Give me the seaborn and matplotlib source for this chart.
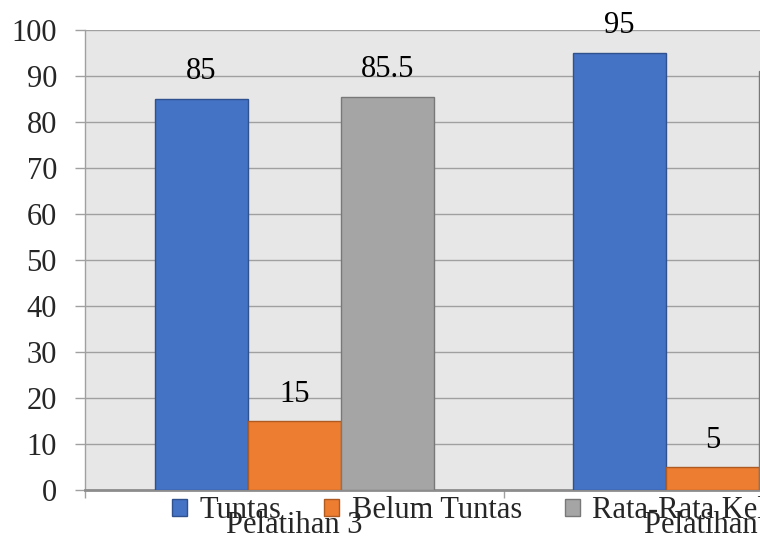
import matplotlib
matplotlib.use("Agg")
import matplotlib.pyplot as plt
import pandas as pd
import seaborn as sns

# chart data
categories = ["Pelatihan 3", "Pelatihan 4"]
series = ["Tuntas", "Belum Tuntas", "Rata-Rata Kelas"]
tuntas = [85, 95]
belum_tuntas = [15, 5]
rata_rata = [85.5, 91]
y_ticks = list(range(0, 101, 10))

colors = ["#4472C4", "#ED7D31", "#A5A5A5"]
edges = ["#2F528F", "#AE5A21", "#787878"]

df = pd.DataFrame({
    "kategori": categories * 3,
    "seri": [s for s in series for _ in categories],
    "nilai": tuntas + belum_tuntas + rata_rata,
})

sns.set_style("white")
plt.rcParams["font.family"] = ["Liberation Serif", "DejaVu Serif"]

fig = plt.figure(figsize=(7.6, 5.4), dpi=100)
# plot area runs past the right edge of the figure, like the cropped original
ax = fig.add_axes([85 / 760, 50 / 540, 837 / 760, 460 / 540])
ax.set_facecolor("#E7E7E7")

sns.barplot(
    data=df, x="kategori", y="nilai", hue="seri", order=categories,
    hue_order=series, palette=colors, width=0.667, gap=0,
    linewidth=1, saturation=1, ax=ax, legend=False,
)

for cont, ec in zip(ax.containers, edges):
    for bar in cont:
        bar.set_edgecolor(ec)
        bar.set_zorder(3)
    ax.bar_label(cont, padding=9, fontsize=22, color="black")

ax.set_xlim(-0.5, 1.5)
ax.set_ylim(0, 100)
ax.set_yticks(y_ticks)
ax.set_xticks([-0.5, 0, 0.5, 1], labels=["", categories[0], "", categories[1]])
ax.set_xlabel("")
ax.set_ylabel("")
ax.tick_params(axis="y", labelsize=22, length=7.2, pad=13, color="#A0A0A0", width=1, left=True)
ax.tick_params(axis="x", labelsize=22, length=6, pad=9, color="#A0A0A0", width=1, bottom=True)
# only the boundary ticks get marks, category centre ticks do not
for t in ax.xaxis.get_major_ticks():
    if t.get_loc() in (0, 1):
        t.tick1line.set_visible(False)

ax.grid(axis="y", color="#A0A0A0", linewidth=1)
ax.set_axisbelow(True)
for side in ["top", "right"]:
    ax.spines[side].set_visible(False)
ax.spines["left"].set_color("#A0A0A0")
ax.spines["left"].set_linewidth(1)
ax.spines["bottom"].set_color("#8C8C8C")
ax.spines["bottom"].set_linewidth(2)

handles = [plt.Rectangle((0, 0), 1, 1, facecolor=c, edgecolor=e, linewidth=1)
           for c, e in zip(colors, edges)]
fig.legend(
    handles, series, loc="center left", bbox_to_anchor=(172 / 760, 1 - 511 / 540),
    ncol=3, frameon=False, fontsize=22, handlelength=0.5, handleheight=0.5,
    handletextpad=0.4, columnspacing=1.4, borderpad=0, borderaxespad=0,
)

fig.savefig("out.png", dpi=100)
